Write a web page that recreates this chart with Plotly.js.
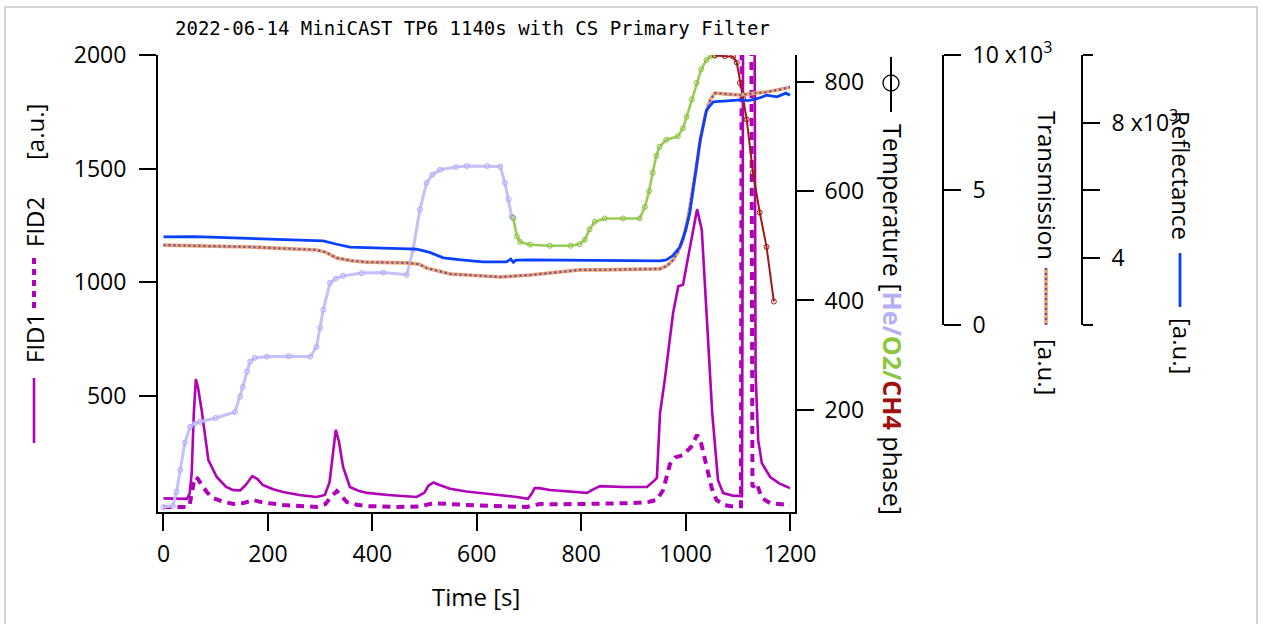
<!DOCTYPE html>
<html><head><meta charset="utf-8">
<script src="https://cdn.plot.ly/plotly-3.0.1.min.js"></script>
<style>body{margin:0;background:#fff}#wrap{position:relative;width:1263px;height:624px;overflow:hidden}
#frame{position:absolute;left:4px;top:6px;width:1250px;height:700px;border:2px solid #d4d4d4;pointer-events:none}
#plot{position:absolute;left:0;top:0;width:1263px;height:624px}</style>
</head><body><div id="wrap"><div id="plot"></div><div id="frame"></div></div>
<script>
// ---- data ----
const fid1Time = [0,45,50,54,58,62,66,73,86,102,120,134,147,158,170,180,190,210,229,260,293,309,318,325,330,336,344,357,375,390,430,485,500,507,517,530,549,580,612,650,677,698,705,711,720,740,780,811,825,836,880,926,941,945,951,960,976,986,995,1008,1022,1031,1040,1051,1062,1072,1090,1104,1108,1111,1131,1134,1139,1146,1162,1180,1200];
const fid1 = [50,48,70,160,420,575,540,440,218,144,100,86,85,110,148,135,109,90,78,65,56,65,120,260,351,300,188,100,82,74,65,56,75,105,120,108,92,80,73,65,56,48,70,95,95,87,80,74,92,104,100,100,130,140,425,570,865,983,990,1155,1322,1230,865,425,130,73,62,60,60,3000,3000,600,306,205,144,115,95];
const fid2Time = [0,45,50,54,58,62,66,73,84,95,115,134,155,171,190,229,260,293,310,322,332,340,351,370,390,450,490,517,550,581,640,696,710,721,760,811,860,900,930,945,957,965,970,980,995,1010,1022,1030,1040,1050,1059,1075,1098,1106,1108,1125,1128,1136,1146,1162,1200];
const fid2 = [12,12,20,73,120,144,135,109,75,51,35,25,30,43,32,21,16,12,25,60,82,60,34,22,16,12,14,29,24,21,16,12,20,25,24,25,27,29,35,43,87,150,200,230,240,275,329,290,188,95,43,20,12,15,3000,3000,100,117,51,29,20];

const heTime = [0,18,25,32,41,51,60,70,100,137,147,152,160,166,175,198,240,281,293,300,306,319,330,344,380,421,466,478,491,504,515,530,560,581,620,645,654,661,667,670];
const heT = [22,24,50,90,140,169,175,178,185,196,224,242,270,288,295,297,298,297,315,350,383,432,440,445,450,451,447,493,566,615,630,639,644,646,646,645,615,585,553,551];
const o2Time = [670,677,683,702,740,780,797,807,816,826,845,880,912,922,930,937,944,950,963,985,995,1002,1012,1021,1030,1040,1048,1056];
const o2T = [551,517,507,502,500,500,503,511,530,544,550,550,550,571,600,634,665,681,694,700,715,736,768,798,823,840,847,848];
const ch4Time = [1056,1075,1091,1098,1104,1110,1117,1129,1142,1155,1169];
const ch4T = [848,847,846,835,798,770,731,634,561,498,398];

const trTime = [0,50,166,293,310,332,360,389,466,490,504,549,600,645,702,760,797,836,900,951,965,976,985,995,1005,1014,1021,1028,1038,1047,1056,1080,1104,1130,1155,1180,1200];
const trV = [2.96,2.94,2.89,2.78,2.70,2.48,2.38,2.33,2.30,2.25,2.11,1.89,1.82,1.78,1.85,1.95,2.04,2.04,2.06,2.08,2.2,2.41,2.7,3.15,4.0,5.0,5.9,6.85,7.8,8.33,8.59,8.55,8.52,8.58,8.63,8.72,8.81];
const rfTime = [0,60,134,200,293,306,330,357,420,485,510,536,570,612,657,665,670,675,702,760,836,900,951,963,975,989,1000,1008,1018,1028,1040,1053,1080,1104,1120,1140,1155,1175,1192,1200];
const rfV = [4.61,4.62,4.58,4.55,4.49,4.49,4.40,4.31,4.28,4.25,4.15,3.99,3.93,3.87,3.87,3.95,3.86,3.92,3.93,3.92,3.90,3.91,3.90,3.93,4.05,4.31,4.8,5.32,6.4,7.48,8.37,8.61,8.64,8.67,8.65,8.72,8.81,8.76,8.87,8.81];

const xTicks = [0,200,400,600,800,1000,1200];
const fidTicks = [500,1000,1500,2000];
const tempTicks = [200,400,600,800];
const trTicks = [0,5,10];
const trTickText = ['0','5','10 x10<sup>3</sup>'];
const rfTicks = [4,6,8];
const rfTickText = ['4',' ','8 x10<sup>3</sup>'];

// ---- layout geometry ----
const W = 1263, H = 624, ML = 158, MR = 20, MT = 55, MB = 112;
const PW = W - ML - MR, PH = H - MT - MB;
const px = v => (v - ML) / PW;
const py = v => (H - MB - v) / PH;

const FONT = 'Open Sans, Noto Sans, sans-serif';
const FS = 23, AFS = 24;
const MAG = '#b000b8';
const axBase = {showgrid:false, zeroline:false, showline:true, linewidth:2, linecolor:'#000',
  ticks:'outside', ticklen:17, tickwidth:2, tickcolor:'#000', tickfont:{family:FONT, size:FS, color:'#000'}};

const TR_O = '#f4a06c', TR_B = '#5858a8';
const traces = [
  {x:fid1Time, y:fid1, mode:'lines', line:{color:MAG, width:2.6}, xaxis:'x', yaxis:'y'},
  {x:fid2Time, y:fid2, mode:'lines', line:{color:MAG, width:4, dash:'8px,6px'}, xaxis:'x', yaxis:'y'},
  {x:trTime, y:trV, mode:'lines', line:{color:TR_O, width:3.6}, xaxis:'x', yaxis:'y3'},
  {x:trTime, y:trV, mode:'lines', line:{color:TR_B, width:2.2, dash:'2px,3px'}, xaxis:'x', yaxis:'y3'},
  {x:rfTime, y:rfV, mode:'lines', line:{color:'#0a40ff', width:2.8}, xaxis:'x', yaxis:'y4'},
  {x:heTime, y:heT, mode:'lines+markers', line:{color:'#c4c0fa', width:3}, marker:{symbol:'circle-open', size:5, color:'#b0acf2'}, xaxis:'x', yaxis:'y2'},
  {x:o2Time, y:o2T, mode:'lines+markers', line:{color:'#9acb52', width:2.6}, marker:{symbol:'circle-open', size:5, color:'#8cbf44'}, xaxis:'x', yaxis:'y2'},
  {x:ch4Time, y:ch4T, mode:'lines+markers', line:{color:'#a01818', width:2}, marker:{symbol:'circle-open', size:5, color:'#a01818'}, xaxis:'x', yaxis:'y2'}
];

const ann = (x, y, text, angle, extra) => Object.assign({xref:'paper', yref:'paper', x:px(x), y:py(y), text:text, textangle:angle,
  showarrow:false, xanchor:'center', yanchor:'middle', font:{family:FONT, size:AFS, color:'#000'}}, extra||{});
const vline = (x, y0, y1, color, width, dash) => ({type:'line', xref:'paper', yref:'paper', x0:px(x), x1:px(x), y0:py(y0), y1:py(y1),
  line:{color:color, width:width, dash:dash||'solid'}});

const layout = {
  width:W, height:H, margin:{l:ML, r:MR, t:MT, b:MB},
  paper_bgcolor:'#fff', plot_bgcolor:'rgba(0,0,0,0)', showlegend:false,
  xaxis:Object.assign({}, axBase, {domain:[0, px(795)], range:[-10.5,1209.5], tickvals:xTicks, anchor:'y', ticklabelstandoff:3}),
  yaxis:Object.assign({}, axBase, {domain:[0,1], range:[-10,2000], tickvals:fidTicks, ticklabelstandoff:8}),
  yaxis2:Object.assign({}, axBase, {overlaying:'y', side:'right', anchor:'x', range:[13,849], tickvals:tempTicks, ticklabelstandoff:6}),
  yaxis3:Object.assign({}, axBase, {domain:[py(325),1], anchor:'free', position:px(943), side:'right', range:[0,10],
     tickvals:trTicks, ticktext:trTickText, ticklabelstandoff:7}),
  yaxis4:Object.assign({}, axBase, {overlaying:'y3', anchor:'free', position:px(1082), side:'right', range:[2,10],
     tickvals:rfTicks, ticktext:rfTickText, ticklabelstandoff:7,
     minor:{tick0:0, dtick:2, ticks:'outside', ticklen:10, tickwidth:2, tickcolor:'#000'}}),
  annotations:[
    ann(472, 28, '2022-06-14 MiniCAST TP6 1140s with CS Primary Filter', 0, {font:{family:'DejaVu Sans Mono, Liberation Mono, monospace', size:19, color:'#000'}}),
    ann(476, 596, 'Time [s]', 0),
    ann(34, 132, '[a.u.]', -90),
    ann(34, 222, 'FID2', -90),
    ann(34, 338, 'FID1', -90),
    ann(893, 319, 'Temperature [<b><span style="color:#b4b0f4">He/</span><span style="color:#8cc63f">O2/</span><span style="color:#a01010">CH4</span></b> phase]', 90, {font:{family:FONT, size:25, color:'#000'}}),
    ann(1048, 185, 'Transmission', 90),
    ann(1048, 367, '[a.u.]', 90),
    ann(1182, 175, 'Reflectance', 90),
    ann(1182, 346, '[a.u.]', 90)
  ],
  shapes:[
    vline(34, 258, 313, MAG, 4, '6px,5px'),
    vline(34, 378, 443, MAG, 2.6),
    vline(891, 57, 112, '#000', 2),
    {type:'circle', xref:'paper', yref:'paper', x0:px(883), x1:px(899), y0:py(75), y1:py(91), line:{color:'#000', width:1.3}, fillcolor:'rgba(0,0,0,0)'},
    vline(1046, 268, 325, TR_O, 3.6),
    vline(1046, 268, 325, TR_B, 2.2, '2px,3px'),
    vline(1180, 253, 307, '#0a40ff', 2.8)
  ]
};
Plotly.newPlot('plot', traces, layout, {staticPlot:true, displayModeBar:false});
</script></body></html>
